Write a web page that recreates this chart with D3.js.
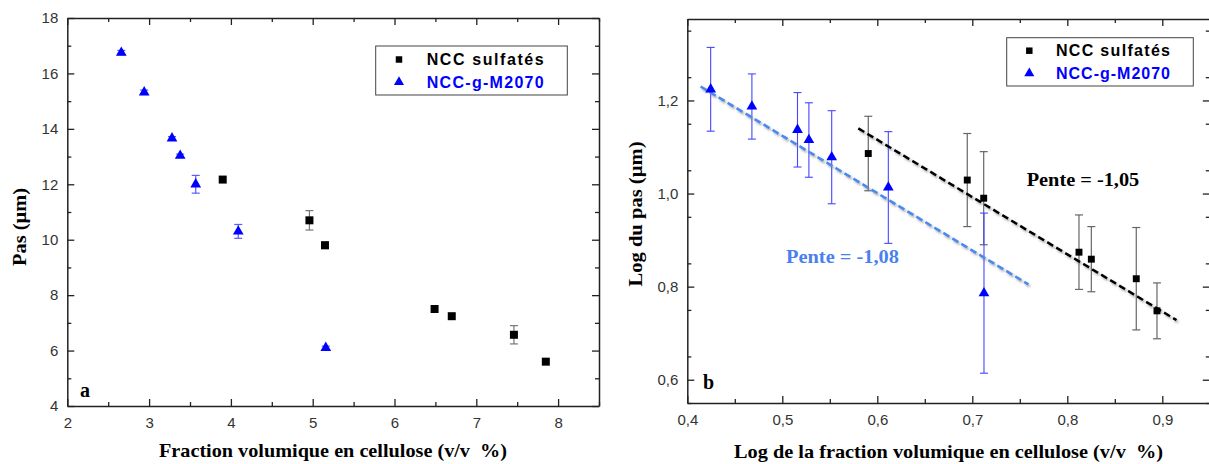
<!DOCTYPE html>
<html><head><meta charset="utf-8">
<script src="https://cdn.jsdelivr.net/npm/d3@7"></script>
<style>
body{margin:0;background:#fff;}
svg{display:block;}
.tick text{font-family:Arial,"Liberation Sans",sans-serif;font-size:15px;fill:#333;}
.domain{stroke:#222;stroke-width:1.5px;}
.tick line{stroke:#222;stroke-width:1.3px;}
</style>
</head><body>
<svg id="chart" width="1209" height="464"></svg>
<script>
// ---------- data ----------
const seriesNames = ["NCC sulfatés", "NCC-g-M2070"];
// panel a
const aSqX = [3.90, 4.96, 5.15, 6.49, 6.70, 7.46, 7.85];
const aSqY = [12.17, 10.70, 9.80, 7.50, 7.24, 6.57, 5.60];
const aSqErr = [0, 0.35, 0.12, 0, 0, 0.33, 0];
const aTriX = [2.66, 2.94, 3.28, 3.38, 3.57, 4.09, 5.16];
const aTriY = [16.75, 15.32, 13.66, 13.03, 12.00, 10.30, 6.10];
const aTriErr = [0.08, 0.08, 0.06, 0.06, 0.32, 0.25, 0.06];
const aXTicks = [2, 3, 4, 5, 6, 7, 8];
const aYTicks = [4, 6, 8, 10, 12, 14, 16, 18];
// panel b
const bSqX = [0.5905, 0.6947, 0.712, 0.8123, 0.8253, 0.8726, 0.8944];
const bSqY = [1.086, 1.029, 0.990, 0.874, 0.859, 0.817, 0.748];
const bSqErr = [0.08, 0.10, 0.10, 0.08, 0.07, 0.11, 0.06];
const bTriX = [0.4246, 0.468, 0.516, 0.528, 0.552, 0.6116, 0.7123];
const bTriY = [1.224, 1.187, 1.137, 1.115, 1.078, 1.013, 0.786];
const bTriErr = [0.09, 0.07, 0.08, 0.08, 0.10, 0.12, 0.172];
const fitSqX = [0.58, 0.915];
const fitSqY = [1.140, 0.728];
const fitTriX = [0.414, 0.759];
const fitTriY = [1.230, 0.805];
const bXTicks = [0.4, 0.5, 0.6, 0.7, 0.8, 0.9];
const bYTicks = [0.6, 0.8, 1.0, 1.2];
const slopeLabels = ["Pente = -1,05", "Pente = -1,08"];

const svg = d3.select("#chart");
const defs = svg.append("defs");
const f = defs.append("filter").attr("id","shadow").attr("x","-10%").attr("y","-50%").attr("width","120%").attr("height","200%");
f.append("feDropShadow").attr("dx",1.5).attr("dy",2).attr("stdDeviation",1.2).attr("flood-color","#777").attr("flood-opacity",0.6);

const fmtComma = d => d3.format(".1f")(d).replace(".", ",");

function panel(opt){
  const g = svg.append("g");
  const x = d3.scaleLinear().domain(opt.xDom).range(opt.xRange);
  const y = d3.scaleLinear().domain(opt.yDom).range(opt.yRange);
  const [x0,x1] = opt.xRange, [y0,y1] = [opt.yRange[0], opt.yRange[1]];
  const minorX = d3.range(opt.xDom[0], opt.xDom[1]+1e-9, opt.xMinor).filter(v=>!opt.xTicks.some(t=>Math.abs(t-v)<1e-9));
  const minorY = d3.range(opt.yDom[0], opt.yDom[1]+1e-9, opt.yMinor).filter(v=>!opt.yTicks.some(t=>Math.abs(t-v)<1e-9));
  const big=7, small=4;
  g.append("g").attr("transform",`translate(0,${y0})`)
    .call(d3.axisBottom(x).tickValues(opt.xTicks).tickSize(-big).tickSizeOuter(0).tickPadding(11).tickFormat(opt.fmtX))
    .call(a=>a.selectAll(".tick text").attr("dy","0.71em"));
  g.append("g").attr("transform",`translate(0,${y0})`)
    .call(d3.axisBottom(x).tickValues(minorX).tickSize(-small).tickSizeOuter(0).tickFormat(""))
    .call(a=>a.select(".domain").remove());
  g.append("g").attr("transform",`translate(0,${y1})`)
    .call(d3.axisTop(x).tickValues(opt.xTicks).tickSize(-big).tickSizeOuter(0).tickFormat(""));
  g.append("g").attr("transform",`translate(0,${y1})`)
    .call(d3.axisTop(x).tickValues(minorX).tickSize(-small).tickSizeOuter(0).tickFormat(""))
    .call(a=>a.select(".domain").remove());
  g.append("g").attr("transform",`translate(${x0},0)`)
    .call(d3.axisLeft(y).tickValues(opt.yTicks).tickSize(-big).tickSizeOuter(0).tickPadding(9).tickFormat(opt.fmtY));
  g.append("g").attr("transform",`translate(${x0},0)`)
    .call(d3.axisLeft(y).tickValues(minorY).tickSize(-small).tickSizeOuter(0).tickFormat(""))
    .call(a=>a.select(".domain").remove());
  g.append("g").attr("transform",`translate(${x1},0)`)
    .call(d3.axisRight(y).tickValues(opt.yTicks).tickSize(-big).tickSizeOuter(0).tickFormat(""));
  g.append("g").attr("transform",`translate(${x1},0)`)
    .call(d3.axisRight(y).tickValues(minorY).tickSize(-small).tickSizeOuter(0).tickFormat(""))
    .call(a=>a.select(".domain").remove());
  return {g,x,y};
}

function errorBars(g,x,y,xs,ys,es,color,w){
  const cap=4;
  xs.forEach((xv,i)=>{
    if(!es[i]) return;
    const cx=x(xv), ya=y(ys[i]+es[i]), yb=y(ys[i]-es[i]);
    g.append("line").attr("x1",cx).attr("x2",cx).attr("y1",ya).attr("y2",yb).attr("stroke",color).attr("stroke-width",w);
    g.append("line").attr("x1",cx-cap).attr("x2",cx+cap).attr("y1",ya).attr("y2",ya).attr("stroke",color).attr("stroke-width",w);
    g.append("line").attr("x1",cx-cap).attr("x2",cx+cap).attr("y1",yb).attr("y2",yb).attr("stroke",color).attr("stroke-width",w);
  });
}
function markers(g,x,y,xs,ys,type,size,color){
  const sym = d3.symbol().type(type).size(size);
  g.selectAll(null).data(xs.map((v,i)=>[v,ys[i]])).enter().append("path")
    .attr("d",sym).attr("fill",color)
    .attr("transform",d=>`translate(${x(d[0])},${y(d[1])})`);
}
function legend(g,bx,by,bw,bh,mx,tx,rows,lens){
  g.append("rect").attr("x",bx).attr("y",by).attr("width",bw).attr("height",bh)
    .attr("fill","#fff").attr("stroke","#444").attr("stroke-width",1);
  const colors=["#000","#0000ff"];
  seriesNames.forEach((n,i)=>{
    const sym=d3.symbol().type(i===0?d3.symbolSquare:d3.symbolTriangle).size(i===0?42:44);
    g.append("path").attr("d",sym).attr("fill",colors[i]).attr("transform",`translate(${mx},${rows[i]})`);
    g.append("text").attr("x",tx).attr("y",rows[i]).attr("dy","0.36em")
      .attr("font-family","Arial, 'Liberation Sans', sans-serif").attr("font-weight","bold")
      .attr("font-size",16).attr("textLength",lens[i]).attr("lengthAdjust","spacing").attr("fill",colors[i]).text(n);
  });
}
const serif="'Times New Roman','Liberation Serif',serif";
function label(g,x,y,txt,size,len,opts={}){
  const t=g.append("text").attr("font-family",serif).attr("font-weight","bold").attr("font-size",size)
    .attr("fill",opts.fill||"#000").attr("xml:space","preserve").text(txt);
  if(opts.rotate){
    t.attr("transform",`translate(${x},${y}) rotate(-90)`).attr("text-anchor","middle");
  } else {
    t.attr("x",x).attr("y",y).attr("text-anchor",opts.anchor||"start");
  }
  if(len) t.attr("textLength",len).attr("lengthAdjust","spacingAndGlyphs");
  return t;
}

// ---------- panel a ----------
const A = panel({xDom:[2,8.5],xRange:[67.3,599],yDom:[4,18],yRange:[406,18],
  xTicks:aXTicks,yTicks:aYTicks,xMinor:0.5,yMinor:1,fmtX:d3.format("d"),fmtY:d3.format("d")});
errorBars(A.g,A.x,A.y,aSqX,aSqY,aSqErr,"#777",1.2);
errorBars(A.g,A.x,A.y,aTriX,aTriY,aTriErr,"#5a5aff",1.2);
markers(A.g,A.x,A.y,aSqX,aSqY,d3.symbolSquare,64,"#000");
markers(A.g,A.x,A.y,aTriX,aTriY,d3.symbolTriangle,50,"#0000ff");
legend(A.g,375.7,46,191.6,49,399,426.7,[59.5,82],[117,117]);
label(A.g,80,397,"a",20);
label(A.g,333,457,"Fraction volumique en cellulose (v/v  %)",19,348,{anchor:"middle"});
label(A.g,26,227,"Pas (µm)",19,78,{rotate:true});

// ---------- panel b ----------
const B = panel({xDom:[0.4,0.95],xRange:[687.3,1209.8],yDom:[0.55,1.375],yRange:[403,19],
  xTicks:bXTicks,yTicks:bYTicks,xMinor:0.05,yMinor:0.1,fmtX:fmtComma,fmtY:fmtComma});
errorBars(B.g,B.x,B.y,bSqX,bSqY,bSqErr,"#666",1.2);
errorBars(B.g,B.x,B.y,bTriX,bTriY,bTriErr,"#4646ff",1.1);
const line = d3.line().x(d=>B.x(d[0])).y(d=>B.y(d[1]));
B.g.append("path").attr("d",line(fitSqX.map((v,i)=>[v,fitSqY[i]]))).attr("stroke","#000").attr("stroke-width",2.6)
  .attr("stroke-dasharray","7,3.5").attr("fill","none").attr("filter","url(#shadow)");
B.g.append("path").attr("d",line(fitTriX.map((v,i)=>[v,fitTriY[i]]))).attr("stroke","#4a8af0").attr("stroke-width",2.6)
  .attr("stroke-dasharray","7,3.5").attr("fill","none").attr("filter","url(#shadow)");
markers(B.g,B.x,B.y,bSqX,bSqY,d3.symbolSquare,48,"#000");
markers(B.g,B.x,B.y,bTriX,bTriY,d3.symbolTriangle,50,"#0000ff");
legend(B.g,1006.7,37.7,186.6,48.3,1029.3,1056,[50.7,73.3],[114,114]);
label(B.g,1026.7,185.5,slopeLabels[0],19,112.6);
label(B.g,786,263,slopeLabels[1],19,113,{fill:"#4a7ff0"});
label(B.g,703,389,"b",20);
label(B.g,948.5,458,"Log de la fraction volumique en cellulose (v/v  %)",19,429,{anchor:"middle"});
label(B.g,642,214,"Log du pas (µm)",19,145,{rotate:true});
</script>
</body></html>
